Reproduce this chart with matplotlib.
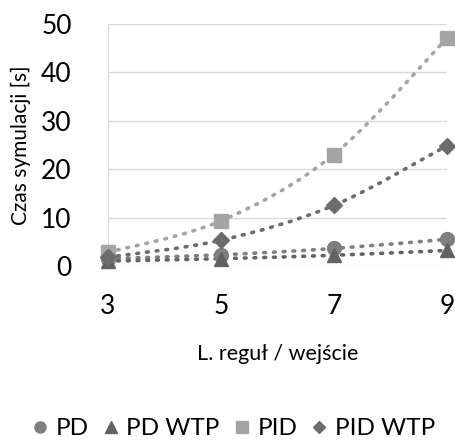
import matplotlib.pyplot as plt
from matplotlib.path import Path
from matplotlib.patches import PathPatch
from matplotlib.lines import Line2D

plt.rcParams['font.family'] = ['Lato', 'DejaVu Sans']

# dane
x_vals = [3, 5, 7, 9]
pd_vals = [1.5, 2.3, 3.6, 5.5]
pd_wtp_vals = [1.0, 1.5, 2.2, 3.2]
pid_vals = [2.8, 9.3, 23.0, 47.0]
pid_wtp_vals = [1.8, 5.3, 12.5, 24.8]

series = [
    ('PD', pd_vals, 'o', '#7f7f7f', 10),
    ('PD WTP', pd_wtp_vals, '^', '#626262', 10),
    ('PID', pid_vals, 's', '#a5a5a5', 10),
    ('PID WTP', pid_wtp_vals, 'D', '#6c6c6c', 8),
]


def smooth_path(xs, ys):
    # krzywa Beziera jak wygładzona linia w Excelu
    verts = [(xs[0], ys[0])]
    codes = [Path.MOVETO]
    n = len(xs)
    for i in range(n - 1):
        x0, y0 = (xs[i - 1], ys[i - 1]) if i > 0 else (xs[i], ys[i])
        x1, y1 = xs[i], ys[i]
        x2, y2 = xs[i + 1], ys[i + 1]
        x3, y3 = (xs[i + 2], ys[i + 2]) if i + 2 < n else (x2, y2)
        c1 = (x1 + (x2 - x0) / 6, y1 + (y2 - y0) / 6)
        c2 = (x2 - (x3 - x1) / 6, y2 - (y3 - y1) / 6)
        verts += [c1, c2, (x2, y2)]
        codes += [Path.CURVE4] * 3
    return Path(verts, codes)


fig = plt.figure(figsize=(4.55, 4.41), dpi=100)
ax = fig.add_axes([0.237, 0.397, 0.745, 0.549])

for name, vals, mk, col, ms in series:
    patch = PathPatch(smooth_path(x_vals, vals), fill=False, edgecolor=col,
                      linewidth=2.6, linestyle=(0, (0.5, 2.2)),
                      capstyle='round', zorder=3)
    ax.add_patch(patch)
    ax.plot(x_vals, vals, linestyle='none', marker=mk, color=col,
            markersize=ms, clip_on=False, zorder=4)

ax.set_xlim(3, 9)
ax.set_ylim(0, 50)
ax.set_xticks(x_vals)
ax.set_yticks(range(0, 51, 10))
ax.tick_params(axis='both', length=0, labelsize=19, colors='#000000')
ax.tick_params(axis='y', pad=26)
ax.tick_params(axis='x', pad=20)
ax.grid(axis='y', color='#d9d9d9', linewidth=1)
ax.set_axisbelow(True)
for side in ['top', 'right', 'bottom']:
    ax.spines[side].set_visible(False)
ax.spines['left'].set_color('#d9d9d9')

ax.set_ylabel('Czas symulacji [s]', fontsize=15, labelpad=7)
ax.set_xlabel('L. reguł / wejście', fontsize=15.5, labelpad=18)

handles = [Line2D([], [], linestyle='none', marker=mk, color=col, markersize=ms * 0.8)
           for name, vals, mk, col, ms in series]
labels = [s[0] for s in series]
fig.legend(handles, labels, loc='center', bbox_to_anchor=(0.51, 0.028), ncol=4,
           frameon=False, fontsize=17.5, handletextpad=0.2, columnspacing=0.45,
           handlelength=0.9)

fig.savefig('out.png', dpi=100)
